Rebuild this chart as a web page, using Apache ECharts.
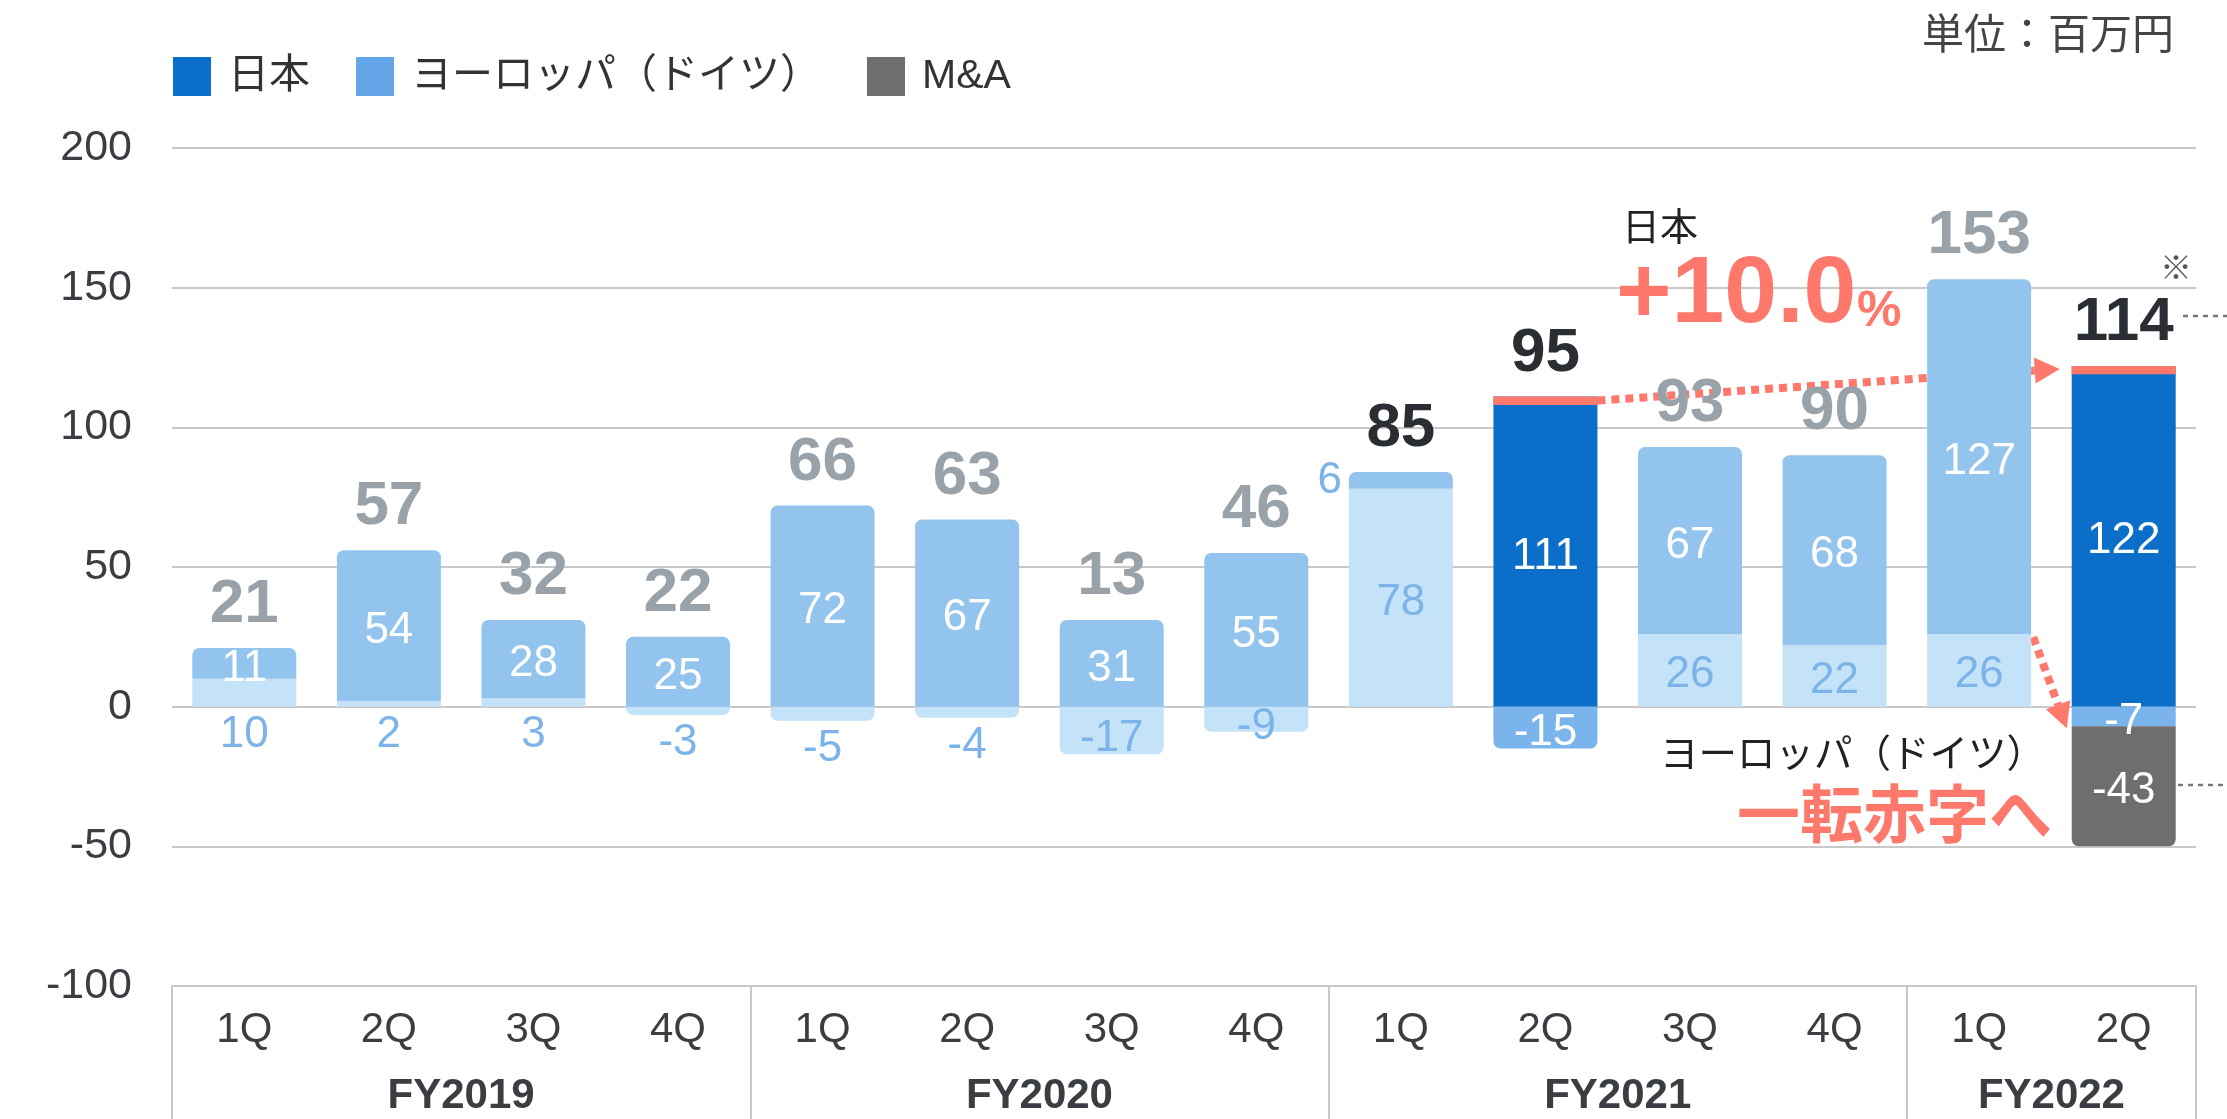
<!DOCTYPE html>
<html><head><meta charset="utf-8">
<script src="https://cdn.jsdelivr.net/npm/echarts@6/dist/echarts.min.js"></script>
<style>html,body{margin:0;padding:0;background:#fff}#c{width:2227px;height:1119px}</style>
</head><body><div id="c"></div>
<script>
// ---- data ----
const quarters = ['1Q','2Q','3Q','4Q','1Q','2Q','3Q','4Q','1Q','2Q','3Q','4Q','1Q','2Q'];
const fiscalYears = ['FY2019','FY2020','FY2021','FY2022'];
const fiscalYearQuarterCounts = [4,4,4,2];
const japan  = [10, 2, 3, -3, -5, -4, -17, -9, 78, 111, 26, 22, 26, 122];
const europe = [11, 54, 28, 25, 72, 67, 31, 55, 6, -15, 67, 68, 127, -7];
const mna    = [null,null,null,null,null,null,null,null,null,null,null,null,null,-43];
const totals = [21, 57, 32, 22, 66, 63, 13, 46, 85, 95, 93, 90, 153, 114];
const yTicks = [-100, -50, 0, 50, 100, 150, 200];
const highlightIdx = [9, 13];          // bars drawn in full colour
const darkTotalIdx = [8, 9, 13];       // totals written in black

// ---- styles ----
const FONT = "'Liberation Sans', 'Noto Sans CJK JP', sans-serif";
const BAR_W = 104, R = 7, CAP = 3;
const C_JP = '#0b6fca', C_JP_FADE = '#c5e3f8';
const C_EU = '#65a6e8', C_EU_FADE = '#93c4ee', C_EU_HI = '#79b5ec';
const C_MA = '#6e6e6e', C_RED = '#ff786c', C_LBL = '#7cb3e9';
const isHi = i => highlightIdx.includes(i);
const seriesVals = [japan, europe, mna];

function radiusFor(s, i) {
  const v = seriesVals[s][i];
  if (v == null || v === 0) return 0;
  if (s === 0 && isHi(i) && v > 0) return 0;
  for (let k = s + 1; k < seriesVals.length; k++) {
    const w = seriesVals[k][i];
    if (w != null && Math.sign(w) === Math.sign(v)) return 0;
  }
  return v > 0 ? [R, R, 0, 0] : [0, 0, R, R];
}
const baseLabel = { show: true, fontFamily: FONT, fontSize: 44, formatter: p => String(p.value) };
const INSIDE = { position: 'inside', offset: [0, 5] };

const japanData = japan.map((v, i) => {
  let label;
  if (isHi(i)) label = Object.assign({ color: '#fff' }, INSIDE);
  else if (Math.abs(v) >= 15 || v <= -8) label = { position: 'inside', offset: [0, v < 0 ? 8 : 5], color: C_LBL };
  else label = { position: 'bottom', distance: 6, color: C_LBL };
  return { value: v, itemStyle: { color: isHi(i) ? C_JP : C_JP_FADE, borderRadius: radiusFor(0, i) }, label: Object.assign({}, baseLabel, label) };
});
const europeData = europe.map((v, i) => {
  let label;
  if (isHi(i)) label = Object.assign({ color: '#fff' }, INSIDE);
  else if (Math.abs(v) < 8) label = { position: 'left', distance: 7, color: C_LBL };
  else label = Object.assign({ color: '#fff' }, INSIDE);
  return { value: v, itemStyle: { color: isHi(i) ? C_EU_HI : C_EU_FADE, borderRadius: radiusFor(1, i) }, label: Object.assign({}, baseLabel, label) };
});
const mnaData = mna.map((v, i) => v == null ? null : ({ value: v, itemStyle: { color: C_MA, borderRadius: radiusFor(2, i) }, label: Object.assign({}, baseLabel, { color: '#fff' }, INSIDE) }));

const posTop = quarters.map((_, i) => seriesVals.reduce((a, s) => a + ((s[i] || 0) > 0 ? s[i] : 0), 0));
const totalData = totals.map((t, i) => [i, posTop[i], t]);
const capData = highlightIdx.map(i => [i, japan[i]]);

// group centres / boundaries for the fiscal-year axis
const fyBounds = [0]; fiscalYearQuarterCounts.forEach(n => fyBounds.push(fyBounds[fyBounds.length - 1] + n));
const fyCenters = fiscalYears.map((_, k) => (fyBounds[k] + fyBounds[k + 1]) / 2);

const chart = echarts.init(document.getElementById('c'));
chart.setOption({
  animation: false,
  textStyle: { fontFamily: FONT },
  grid: { left: 172, right: 31, top: 148, bottom: 133, outerBoundsMode: 'none', containLabel: false },
  legend: {
    data: ['日本', 'ヨーロッパ（ドイツ）', 'M&A'],
    left: 173, top: 56, padding: 0, itemWidth: 38, itemHeight: 39, itemGap: 46, icon: 'rect',
    textStyle: { fontFamily: FONT, fontSize: 41, color: '#333', padding: [0, 0, 0, 12] }
  },
  xAxis: [{
    type: 'category', data: quarters, position: 'bottom',
    axisLine: { onZero: false, lineStyle: { color: '#c8c8c8', width: 2 } },
    axisTick: { show: false },
    axisLabel: { fontFamily: FONT, fontSize: 42, color: '#3a3d42', margin: 23 }
  }, {
    type: 'value', min: 0, max: quarters.length, position: 'bottom',
    axisLine: { show: false, onZero: false },
    splitLine: { show: false },
    axisTick: { show: true, customValues: fyBounds, length: 133, lineStyle: { color: '#c8c8c8', width: 2 } },
    axisLabel: { customValues: fyCenters, fontFamily: FONT, fontSize: 42, fontWeight: 'bold', color: '#3a3d42', margin: 89,
      formatter: v => fiscalYears[fyCenters.indexOf(v)] || '' }
  }],
  yAxis: {
    type: 'value', min: yTicks[0], max: yTicks[yTicks.length - 1], interval: 50,
    axisLine: { show: false }, axisTick: { show: false },
    axisLabel: { fontFamily: FONT, fontSize: 43, color: '#3a3d42', margin: 40 },
    splitLine: { lineStyle: { color: '#c8c8c8', width: 2 } }
  },
  series: [
    { name: '日本', type: 'bar', stack: 'a', barWidth: BAR_W, itemStyle: { color: C_JP }, data: japanData },
    { name: 'ヨーロッパ（ドイツ）', type: 'bar', stack: 'a', barWidth: BAR_W, itemStyle: { color: C_EU }, data: europeData },
    { name: 'M&A', type: 'bar', stack: 'a', barWidth: BAR_W, itemStyle: { color: C_MA }, data: mnaData },
    { type: 'custom', silent: true, z: 5, data: capData, encode: { x: 0, y: 1 },
      renderItem: (params, api) => {
        const i = api.value(0), v = api.value(1);
        const t = api.coord([i, v]), b = api.coord([i, v - CAP]);
        return { type: 'rect', shape: { x: t[0] - BAR_W / 2, y: t[1], width: BAR_W, height: b[1] - t[1] }, style: { fill: C_RED } };
      } },
    { type: 'custom', silent: true, z: 6, data: totalData, encode: { x: 0, y: 1 },
      renderItem: (params, api) => {
        const i = api.value(0), top = api.value(1), t = api.value(2);
        const p = api.coord([i, top]);
        const dark = darkTotalIdx.includes(i);
        return { type: 'text', x: p[0], y: p[1] - 43,
          style: { text: String(t), fill: dark ? '#2a2d31' : '#99a1a9', font: 'bold 62px ' + FONT, align: 'center', verticalAlign: 'middle' } };
      } }
  ]
});

// ---- annotations ----
const px = (i, v) => chart.convertToPixel({ xAxisIndex: 0, yAxisIndex: 0 }, [i, v]);
function arrow(x1, y1, x2, y2) {
  const ang = Math.atan2(y2 - y1, x2 - x1), L = 25, W = 13;
  const bx = x2 - L * Math.cos(ang), by = y2 - L * Math.sin(ang);
  const nx = -Math.sin(ang), ny = Math.cos(ang);
  return [
    { type: 'line', shape: { x1, y1, x2: bx, y2: by }, style: { stroke: C_RED, lineWidth: 8, lineDash: [8, 6] }, silent: true },
    { type: 'polygon', shape: { points: [[x2, y2], [bx + nx * W, by + ny * W], [bx - nx * W, by - ny * W]] }, style: { fill: C_RED }, silent: true }
  ];
}
const a1s = px(9, japan[9]), a1e = px(13, japan[13]);
const a2s = px(12, japan[12]), a2e = px(13, europe[13]);
const g = [];
g.push(...arrow(a1s[0] + BAR_W / 2, a1s[1] + 4, a1e[0] - BAR_W / 2 - 12, a1e[1] + 3));
g.push(...arrow(a2s[0] + BAR_W / 2 + 2, a2s[1] + 3, a2e[0] - BAR_W / 2 - 5, a2e[1] + 2));
const txt = (text, x, y, font, fill, align) => ({ type: 'text', x, y, silent: true, style: { text, font, fill, align: align || 'left', verticalAlign: 'middle' } });
g.push(txt('単位：百万円', 2174, 37, '42px ' + FONT, '#444', 'right'));
g.push(txt('日本', 1622, 230, '38px ' + FONT, '#222'));
g.push(txt('+10.0', 1616, 296, 'bold 95px ' + FONT, C_RED));
g.push(txt('%', 1857, 312, 'bold 50px ' + FONT, C_RED));
g.push(txt('※', 2176, 270, '32px ' + FONT, '#555', 'center'));
g.push(txt('ヨーロッパ（ドイツ）', 2045, 756, '38.5px ' + FONT, '#222', 'right'));
g.push(txt('一転赤字へ', 2052, 820, 'bold 63px ' + FONT, C_RED, 'right'));
g.push({ type: 'line', silent: true, shape: { x1: 2183, y1: 316, x2: 2227, y2: 316 }, style: { stroke: '#777', lineWidth: 2.5, lineDash: [5, 5] } });
g.push({ type: 'line', silent: true, shape: { x1: 2178, y1: 785, x2: 2227, y2: 785 }, style: { stroke: '#777', lineWidth: 2.5, lineDash: [5, 5] } });
chart.setOption({ graphic: g });
</script></body></html>
